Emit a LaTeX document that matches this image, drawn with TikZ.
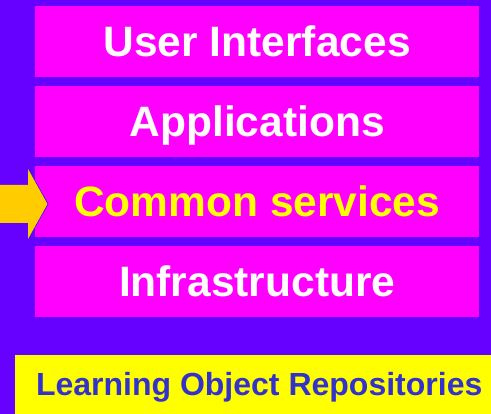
\documentclass[tikz,border=0pt]{standalone}
\usepackage{fontspec}
\setmainfont{Liberation Sans}
\definecolor{bgblue}{HTML}{6600FF}
\definecolor{mag}{HTML}{FF00FF}
\definecolor{yel}{HTML}{FFFF00}
\definecolor{arrowc}{HTML}{FFCC00}
\definecolor{txtblue}{HTML}{3333CC}
\tikzset{
  layer/.style={fill=mag, draw=none, minimum width=444pt, minimum height=71pt, inner sep=0pt,
    font=\fontsize{42.5}{50}\selectfont\bfseries, text=white, anchor=north west,
    text height=29pt, text depth=0pt},
}
\begin{document}
\begin{tikzpicture}[x=1pt,y=-1pt]
\fill[bgblue] (0,0) rectangle (491,414);
\useasboundingbox (0,0) rectangle (491,414);
\node[layer] (ui) at (35,6) {User Interfaces};
\node[layer] (app) at (35,86) {Applications};
\node[layer, text=yel] (cs) at (35,166) {Common services};
\node[layer] (inf) at (35,246) {Infrastructure};
\node[fill=yel, minimum width=476pt, minimum height=59pt, inner sep=0pt, anchor=north west] (lor) at (15,355) {};
\node[font=\fontsize{32}{36}\selectfont\bfseries, text=txtblue, inner sep=0pt, text height=21pt, text depth=0pt] (lort) at ([xshift=6pt]lor.center) {Learning Object Repositories};
\fill[arrowc] (0,185) -- (28,185) -- (28,168) -- (48,204) -- (28,240) -- (28,223) -- (0,223) -- cycle;
\draw[bgblue!60!blue, line width=0.6pt] (28,168) -- (48,204) -- (28,240);
\end{tikzpicture}
\end{document}
